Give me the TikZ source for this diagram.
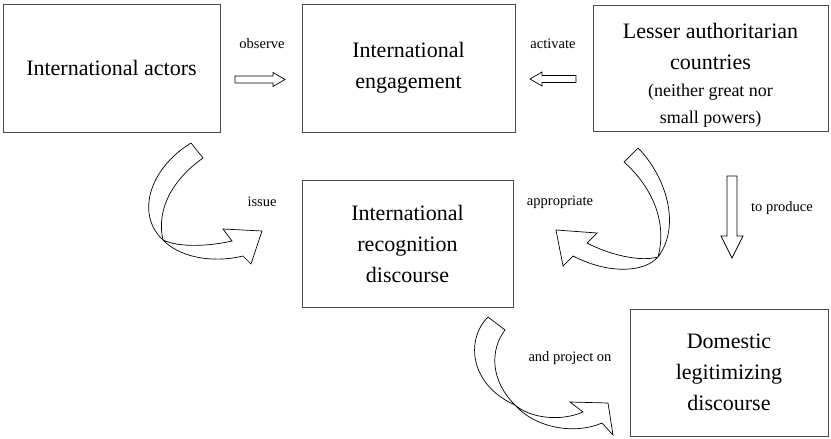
\documentclass[tikz,border=0pt]{standalone}
\usepackage{fontspec}
\setmainfont{Liberation Serif}
\begin{document}
\begin{tikzpicture}[x=1pt,y=-1pt,
  box/.style={draw=black!70, line width=1pt, inner sep=0pt, align=center,
    font=\fontsize{22}{31}\selectfont},
  sub/.style={font=\fontsize{18}{27}\selectfont},
  lbl/.style={font=\fontsize{14.5}{17}\selectfont, inner sep=0pt},
  blk/.style={draw=black, line width=0.7pt, fill=white, line join=miter}]
\useasboundingbox (0,0) rectangle (831,439);
\fill[white] (0,0) rectangle (831,439);

% boxes
\node[box, minimum width=217pt, minimum height=128pt] (actors) at (111.5,68) {International actors};
\node[box, minimum width=213pt, minimum height=128pt] (engage) at (408.5,68) {International\\engagement};
\node[box, minimum width=235pt, minimum height=126pt] (lesser) at (710.5,68) {};
\node[font=\fontsize{22}{31}\selectfont, align=center, inner sep=0pt] (lessert) at (710.5,46) {Lesser authoritarian\\countries};
\node[sub, align=center, inner sep=0pt] (lessers) at (710.5,106) {(neither great nor\\small powers)};
\node[box, minimum width=211pt, minimum height=127pt] (recog) at (407.5,243.5) {International\\recognition\\discourse};
\node[box, minimum width=198pt, minimum height=127pt] (domestic) at (729,372.5) {Domestic\\legitimizing\\discourse};

% labels
\node[lbl] (lobserve) at (262,44) {observe};
\node[lbl] (lactivate) at (553,44) {activate};
\node[lbl] (lissue) at (262,202) {issue};
\node[lbl] (lapprop) at (560,202) {appropriate};
\node[lbl] (lproduce) at (782,208) {to produce};
\node[lbl] (lproject) at (570,358) {and project on};

% straight block arrows
\draw[blk] (235,76) -- (273,76) -- (273,72.5) -- (285,79.5) -- (273,86.5) -- (273,83) -- (235,83) -- cycle;
\draw[blk] (576,75.5) -- (542,75.5) -- (542,72) -- (530,79) -- (542,86) -- (542,82.5) -- (576,82.5) -- cycle;
\draw[blk] (727,176) -- (737,176) -- (737,236) -- (743,236) -- (732,258) -- (721,236) -- (727,236) -- cycle;

% curved block arrow: issue
\draw[blk, fill=none] (191,143) .. controls (150,168) and (135,214) .. (163,240)
  .. controls (178,256) and (210,264) .. (243,256) -- (251,264) -- (262,231) -- (223,229) -- (232,241)
  .. controls (210,246) and (180,248) .. (163,240)
  .. controls (156,210) and (172,180) .. (203,158) -- cycle;

% curved block arrow: appropriate
\draw[blk, fill=none] (638,148) .. controls (665,175) and (682,225) .. (658,257)
  .. controls (645,272) and (610,275) .. (573,256) -- (563,266) -- (556,230) -- (597,233) -- (587,243)
  .. controls (610,255) and (640,262) .. (658,257)
  .. controls (668,220) and (650,185) .. (624,162) -- cycle;

% curved block arrow: and project on
\draw[blk, fill=none] (488,317) .. controls (465,340) and (470,385) .. (515,405)
  .. controls (535,428) and (575,435) .. (602,423) -- (613,435) -- (608,403) -- (570,402) -- (583,412)
  .. controls (560,422) and (530,418) .. (515,405)
  .. controls (490,380) and (490,350) .. (505,330) -- cycle;
\end{tikzpicture}
\end{document}
